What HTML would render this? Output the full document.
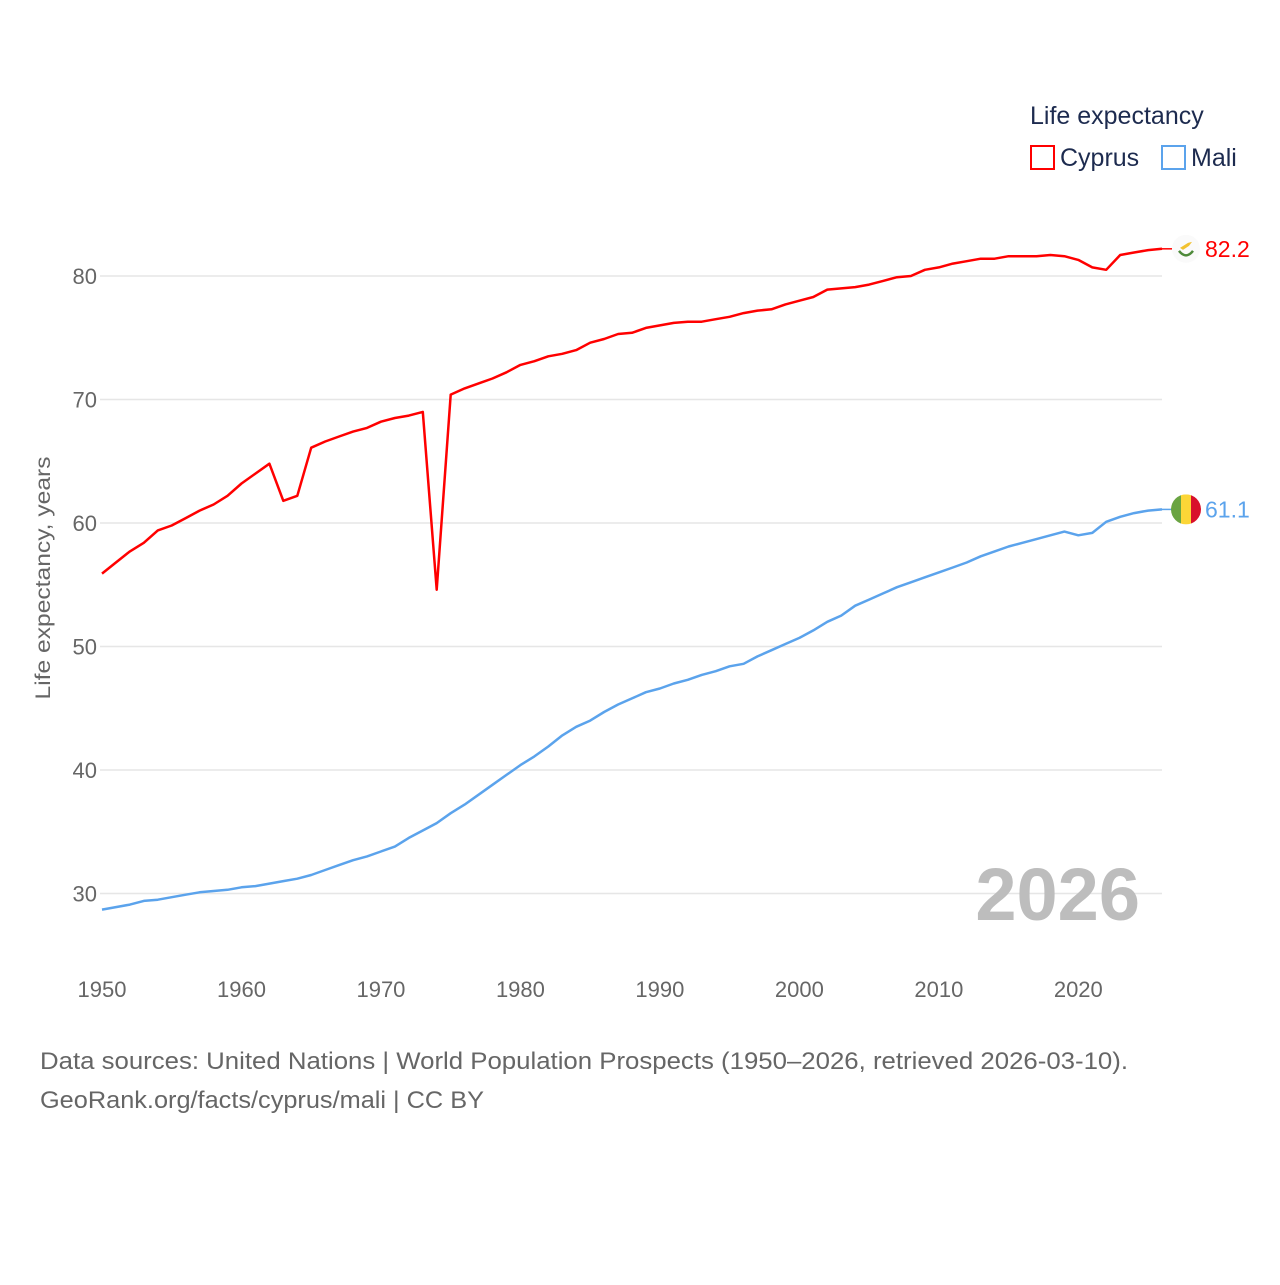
<!DOCTYPE html>
<html><head><meta charset="utf-8"><style>
body{margin:0;background:#fff;font-family:"Liberation Sans",sans-serif}
</style></head><body>
<svg width="1280" height="1280" viewBox="0 0 1280 1280" xmlns="http://www.w3.org/2000/svg" font-family="Liberation Sans, sans-serif">
<g id="grid"></g>
<g id="yt"></g>
<g id="xt"></g>
<text transform="translate(50,578) rotate(-90)" text-anchor="middle" font-size="21" fill="#666" textLength="243" lengthAdjust="spacingAndGlyphs">Life expectancy, years</text>
<text x="1140" y="920" text-anchor="end" font-size="74" font-weight="bold" fill="#bdbdbd">2026</text>
<g id="lines"></g>
<g>
<text x="1030" y="124" font-size="25" fill="#1d2b4f">Life expectancy</text>
<rect x="1031" y="146" width="23" height="23" fill="none" stroke="#f00" stroke-width="2"/>
<text x="1060" y="166" font-size="25" fill="#1d2b4f">Cyprus</text>
<rect x="1162" y="146" width="23" height="23" fill="none" stroke="#5ba3ec" stroke-width="2"/>
<text x="1191" y="166" font-size="25" fill="#1d2b4f">Mali</text>
</g>
<g id="ends"></g>
<text x="40" y="1069" font-size="24" fill="#666" textLength="1088" lengthAdjust="spacingAndGlyphs">Data sources: United Nations | World Population Prospects (1950–2026, retrieved 2026-03-10).</text>
<text x="40" y="1108" font-size="24" fill="#666" textLength="444" lengthAdjust="spacingAndGlyphs">GeoRank.org/facts/cyprus/mali | CC BY</text>
</svg>
<script>
const years=[];for(let y=1950;y<=2026;y++)years.push(y);
const cyprus=[55.9,56.8,57.7,58.4,59.4,59.8,60.4,61.0,61.5,62.2,63.2,64.0,64.8,61.8,62.2,66.1,66.6,67.0,67.4,67.7,68.2,68.5,68.7,69.0,54.6,70.4,70.9,71.3,71.7,72.2,72.8,73.1,73.5,73.7,74.0,74.6,74.9,75.3,75.4,75.8,76.0,76.2,76.3,76.3,76.5,76.7,77.0,77.2,77.3,77.7,78.0,78.3,78.9,79.0,79.1,79.3,79.6,79.9,80.0,80.5,80.7,81.0,81.2,81.4,81.4,81.6,81.6,81.6,81.7,81.6,81.3,80.7,80.5,81.7,81.9,82.1,82.2];
const mali=[28.7,28.9,29.1,29.4,29.5,29.7,29.9,30.1,30.2,30.3,30.5,30.6,30.8,31.0,31.2,31.5,31.9,32.3,32.7,33.0,33.4,33.8,34.5,35.1,35.7,36.5,37.2,38.0,38.8,39.6,40.4,41.1,41.9,42.8,43.5,44.0,44.7,45.3,45.8,46.3,46.6,47.0,47.3,47.7,48.0,48.4,48.6,49.2,49.7,50.2,50.7,51.3,52.0,52.5,53.3,53.8,54.3,54.8,55.2,55.6,56.0,56.4,56.8,57.3,57.7,58.1,58.4,58.7,59.0,59.3,59.0,59.2,60.1,60.5,60.8,61.0,61.1];
const yTicks=[30,40,50,60,70,80];
const xTicks=[1950,1960,1970,1980,1990,2000,2010,2020];
const NS="http://www.w3.org/2000/svg";
const X=y=>102+(y-1950)*(1162-102)/76;
const Y=v=>276+(80-v)*12.35;
function mk(tag,attrs,parent){const e=document.createElementNS(NS,tag);for(const k in attrs)e.setAttribute(k,attrs[k]);parent.appendChild(e);return e;}
const grid=document.getElementById('grid'),yt=document.getElementById('yt'),xt=document.getElementById('xt'),lines=document.getElementById('lines'),ends=document.getElementById('ends');
yTicks.forEach(v=>{
 const l=mk('line',{x1:100,x2:1162,y1:Y(v),y2:Y(v),stroke:'#e6e6e6','stroke-width':1.5},grid);
 
 
 const t=mk('text',{x:97,y:Y(v)+8,'text-anchor':'end','font-size':22,fill:'#666'},yt);
 t.textContent=v;
 
 
});
xTicks.forEach(v=>{
 const t=mk('text',{x:X(v),y:997,'text-anchor':'middle','font-size':22,fill:'#666'},xt);
 t.textContent=v;
 
 
});
function path(vals){return vals.map((v,i)=>(i?'L':'M')+X(years[i]).toFixed(1)+','+Y(v).toFixed(1)).join('');}
const pc=mk('path',{d:path(cyprus),fill:'none',stroke:'#f00','stroke-width':2.5,'stroke-linejoin':'round'},lines);


const pm=mk('path',{d:path(mali),fill:'none',stroke:'#5ba3ec','stroke-width':2.5,'stroke-linejoin':'round'},lines);


const lc=cyprus[cyprus.length-1],lm=mali[mali.length-1];
const cy1=Y(lc),cy2=Y(lm),fx=1186;
mk('line',{x1:X(2026),x2:fx-14,y1:cy1,y2:cy1,stroke:'#f00','stroke-width':1.5},ends);
mk('line',{x1:X(2026),x2:fx-14,y1:cy2,y2:cy2,stroke:'#5ba3ec','stroke-width':1.5},ends);
const fc=mk('g',{},ends);


mk('circle',{cx:fx,cy:cy1,r:14,fill:'#fafafa'},fc);
mk('path',{d:`M${fx-6},${cy1-1} L${fx+2},${cy1-6} L${fx+6},${cy1-7} L${fx+3},${cy1-3} L${fx-3},${cy1+1}Z`,fill:'#f2c230'},fc);
mk('path',{d:`M${fx-7},${cy1+2} Q${fx},${cy1+11} ${fx+7},${cy1+2}`,fill:'none',stroke:'#4e8a3a','stroke-width':2.5},fc);
const fm=mk('g',{},ends);


const cp=mk('clipPath',{id:'mc'},fm);
mk('circle',{cx:fx,cy:cy2,r:15},cp);
const gm=mk('g',{'clip-path':'url(#mc)'},fm);
mk('rect',{x:fx-15,y:cy2-15,width:10,height:30,fill:'#6aa442'},gm);
mk('rect',{x:fx-5,y:cy2-15,width:10,height:30,fill:'#fcd637'},gm);
mk('rect',{x:fx+5,y:cy2-15,width:10,height:30,fill:'#d8102b'},gm);
const t1=mk('text',{x:1205,y:cy1+8,'font-size':23,fill:'#f00'},ends);
t1.textContent=lc.toFixed(1);


const t2=mk('text',{x:1205,y:cy2+8,'font-size':23,fill:'#5ba3ec'},ends);
t2.textContent=lm.toFixed(1);


</script>
</body></html>
